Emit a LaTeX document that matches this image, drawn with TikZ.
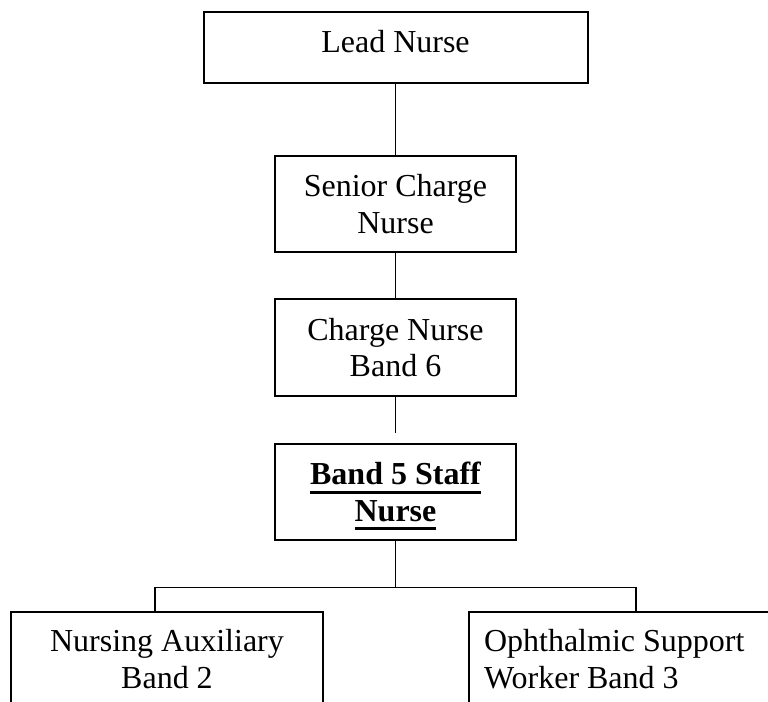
\documentclass[tikz,border=0pt]{standalone}
\usepackage{fontspec}
\setmainfont{Liberation Serif}
\newcommand{\thickul}[1]{\setbox0\hbox{#1}\rlap{\smash{\rule[-6.6pt]{\wd0}{2.1pt}}}\box0}
\tikzset{
    post/.style={draw, line width=1.5pt, align=center, inner sep=0pt,
        font=\fontsize{24}{27.5}\selectfont},
    link/.style={line width=1.4pt},
}

\begin{document}
\begin{tikzpicture}[x=0.75pt,y=-0.75pt]
    \useasboundingbox (0,0) rectangle (768,702);
    \clip (0,0) rectangle (768,702);
    \node[post, minimum width=288pt, minimum height=53.25pt, text depth=9pt] (lead) at (395.5,47.5) {Lead Nurse};
    \node[post, minimum width=180.75pt, minimum height=72pt] (senior) at (395.5,204) {Senior Charge\\Nurse};
    \node[post, minimum width=180.75pt, minimum height=72.75pt] (charge) at (395.5,347.5) {Charge Nurse\\Band 6};
    \node[post, minimum width=180.75pt, minimum height=72pt, font=\fontsize{24}{27.5}\selectfont\bfseries] (band5) at (395.5,492) {\thickul{Band 5 Staff}\\\thickul{Nurse}};
    \node[post, minimum width=234pt, minimum height=70.5pt] (aux) at (167,659) {Nursing Auxiliary\\Band 2};
    \node[post, minimum width=234pt, minimum height=70.5pt, text width=211.5pt, align=flush left] (osw) at (625,659) {Ophthalmic Support\\Worker Band 3};
    \coordinate (jl) at (155,587.5);
    \coordinate (jr) at (636,587.5);
    \draw[link] (lead) -- (senior);
    \draw[link] (senior) -- (charge);
    \draw[link, shorten >=7.5pt] (charge) -- (band5);
    \draw[link] (band5.south) -- (band5.south |- jl);
    \draw[link] (jl |- aux.north) -- (jl) -- (jr) -- (jr |- osw.north);
\end{tikzpicture}
\end{document}
